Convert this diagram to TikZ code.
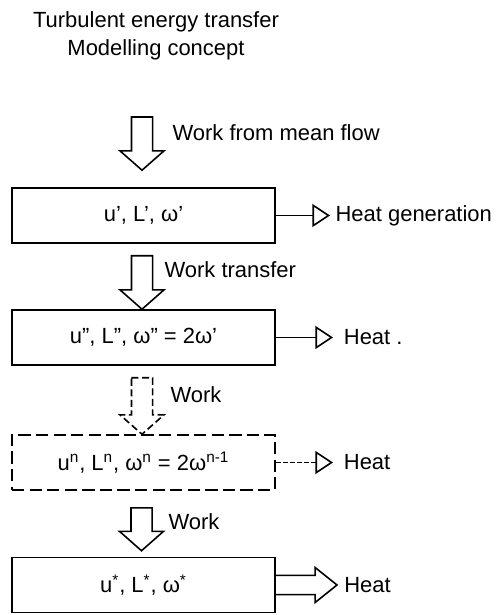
\documentclass[tikz,border=0pt]{standalone}
\usepackage{fontspec}
\setmainfont{Liberation Sans}
\usetikzlibrary{arrows.meta, positioning, calc}
\tikzset{
  ebox/.style={rectangle, draw, line width=0.9pt,
               minimum width=5.26cm, minimum height=1.1cm,
               font=\fontsize{12.5}{15}\selectfont},
  lbl/.style={font=\fontsize{12.5}{15}\selectfont, anchor=west, inner xsep=3pt},
  fat/.style={line width=0.9pt, line join=miter},
  harr/.style={-{Triangle[open, length=10pt, width=13pt]}, line width=0.9pt},
  dsh/.style={dash pattern=on 7pt off 3pt},
}
% hollow block arrows
\newcommand{\fatdown}[3][]{%
  \draw[fat,#1] let \p1=(#2), \p2=(#3) in
    (\x1-6pt,\y1) -- (\x1+6pt,\y1) -- (\x1+6pt,\y2+11pt)
    -- (\x1+12.5pt,\y2+11pt) -- (\x1,\y2) -- (\x1-12.5pt,\y2+11pt)
    -- (\x1-6pt,\y2+11pt) -- cycle;}
\newcommand{\fatright}[2]{%
  \draw[fat] let \p1=(#1), \p2=(#2) in
    (\x1,\y1+5.5pt) -- (\x2-12.5pt,\y1+5.5pt) -- (\x2-12.5pt,\y1+10pt)
    -- (\x2,\y1) -- (\x2-12.5pt,\y1-10pt) -- (\x2-12.5pt,\y1-5.5pt)
    -- (\x1,\y1-5.5pt);}

\begin{document}
\begin{tikzpicture}[x=0.02cm, y=-0.02cm]
  \useasboundingbox (0,0) rectangle (499,615);

  % -- title
  \node[font=\fontsize{12.5}{16}\selectfont, align=center] at (156,36) (title)
       {Turbulent energy transfer\\Modelling concept};

  % -- eddy levels
  \node[ebox]      at (143.5,215.5) (ep1)  {u', L', ω'};
  \node[ebox]      at (143.5,337.5) (ep2)  {u'', L'', ω'' = 2ω'};
  \node[ebox, dsh] at (143.5,462.5) (epn)
       {u\textsuperscript{n}, L\textsuperscript{n}, ω\textsuperscript{n} = 2ω\textsuperscript{n-1}};
  \node[ebox]      at (143.5,585)   (epst)
       {u\textsuperscript{*}, L\textsuperscript{*}, ω\textsuperscript{*}};

  % -- work arrows
  \coordinate (w0) at (142,117);
  \coordinate (t0) at ($(ep1.north)+(0,-17)$);
  \coordinate (w1) at ($(ep1.south)+(-1.5,12)$);
  \coordinate (w2) at ($(ep2.south)+(-1.5,12)$);
  \coordinate (w3) at ($(epn.south)+(-2,17)$);
  \coordinate (t3) at ($(epst.north)+(0,-6)$);
  \fatdown{w0}{t0}
  \fatdown{w1}{ep2.north}
  \fatdown[dash pattern=on 4pt off 2pt]{w2}{epn.north}
  \fatdown{w3}{t3}

  \node[lbl] at (167,133) (wk0) {Work from mean flow};
  \node[lbl] at (159,270) (wk1) {Work transfer};
  \node[lbl] at (165,395) (wk2) {Work};
  \node[lbl] at (163,522) (wk3) {Work};

  % -- heat
  \node[lbl]                  at (330,215.5) (h1)  {Heat generation};
  \node[lbl, inner xsep=6pt]  at (333,337.5) (h2)  {Heat .};
  \node[lbl, inner xsep=6pt]  at (333,462.5) (hn)  {Heat};
  \node[lbl, inner xsep=4pt]  at (337,585)   (hst) {Heat};

  \draw[harr] (ep1.east) -- (h1.west);
  \draw[harr] (ep2.east) -- (h2.west);
  \draw[harr, dash pattern=on 3pt off 1pt] (epn.east) -- (hn.west);
  \fatright{epst.east}{hst.west}
\end{tikzpicture}
\end{document}
